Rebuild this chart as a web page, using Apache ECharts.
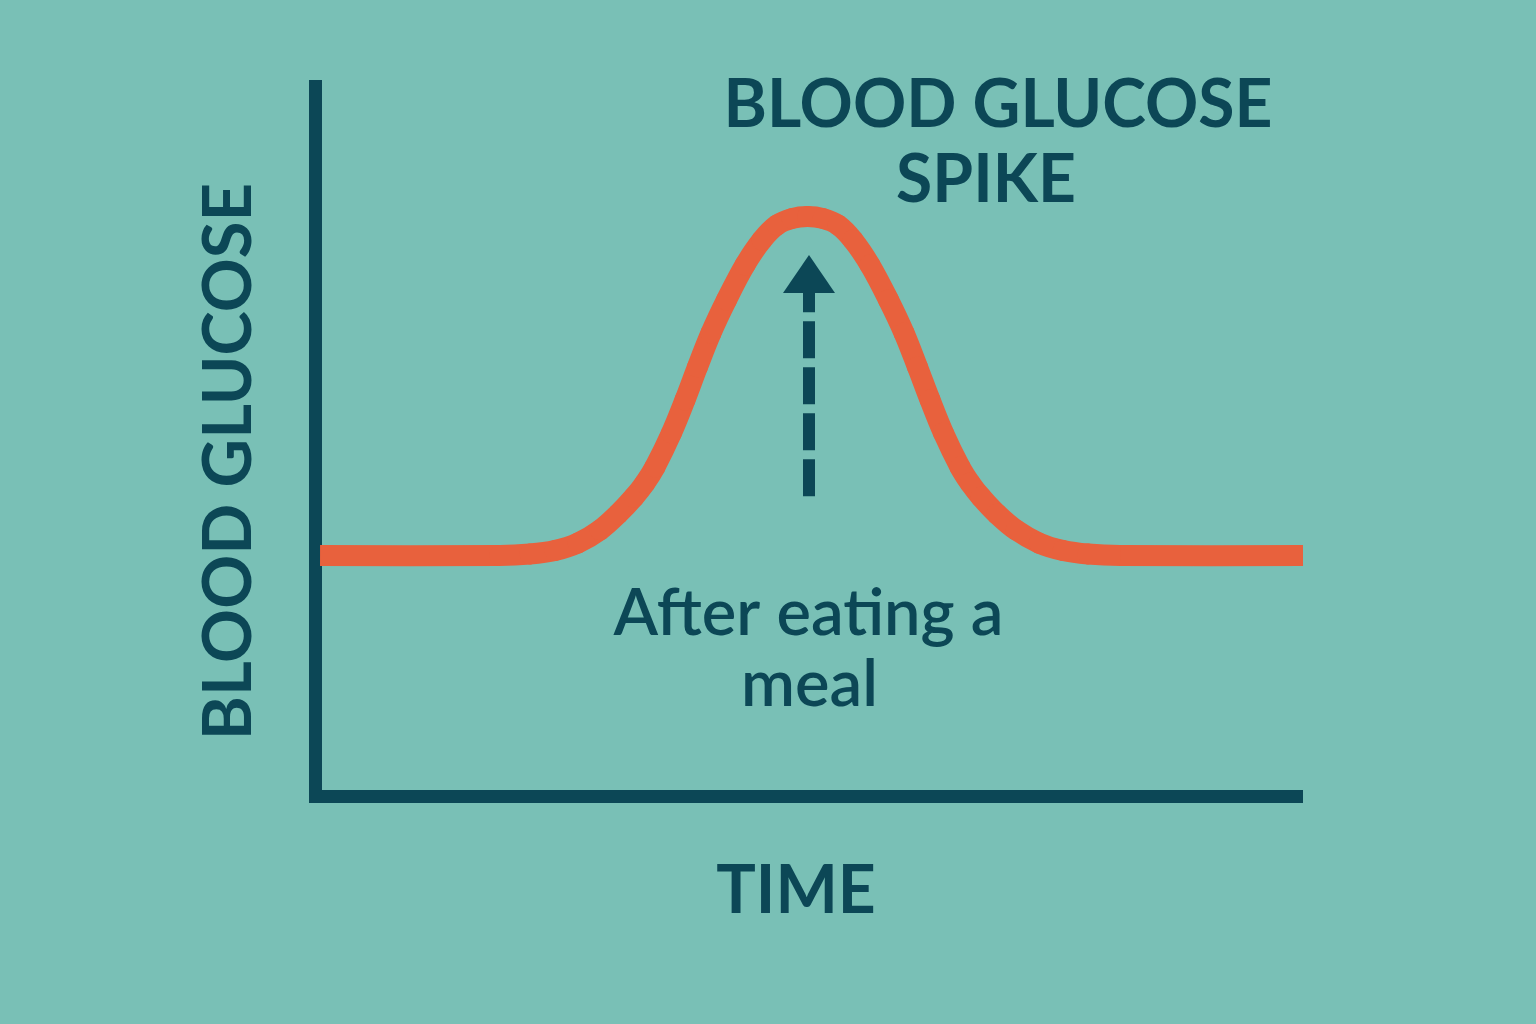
<!DOCTYPE html>
<html>
<head>
<meta charset="utf-8">
<script src="https://cdn.jsdelivr.net/npm/echarts@6/dist/echarts.min.js"></script>
<style>
  html, body { margin: 0; padding: 0; background: #79c0b6; }
  #chart { width: 1536px; height: 1024px; }
</style>
</head>
<body>
<div id="chart"></div>
<script>
// ---- data (time in arbitrary units 0-100, glucose in arbitrary units 0-100) ----
var timeValues = [0.51, 18.72, 21.76, 24.29, 26.62, 28.85, 30.67, 32.29, 33.40, 34.41, 36.08, 37.45, 38.71,
                  40.08, 41.65, 43.52, 45.24, 46.76, 48.28, 49.85, 51.42, 52.94, 54.45, 56.17, 58.05, 59.62,
                  60.98, 62.25, 63.61, 65.28, 66.30, 67.41, 69.03, 70.95, 73.28, 75.71, 78.24, 81.48, 100];
var glucoseValues = [33.94, 33.94, 34.15, 34.65, 35.70, 37.54, 39.79, 42.18, 44.15, 46.41, 51.20, 55.85, 60.49,
                     65.28, 69.93, 74.86, 78.38, 80.49, 81.41, 81.69, 81.41, 80.49, 78.38, 74.86, 69.93, 65.28,
                     60.49, 55.85, 51.20, 46.41, 44.15, 42.18, 39.79, 37.54, 35.70, 34.65, 34.15, 33.94, 33.94];
var mealTime = [50.0];
var arrowFrom = [42.3];
var arrowTo = [73.6];

var titleLines = ['BLOOD GLUCOSE', 'SPIKE'];
var noteLines = ['After eating a', 'meal'];
var xAxisName = 'TIME';
var yAxisName = 'BLOOD GLUCOSE';

var DARK = '#0c4756';
var CURVE = '#e8613d';
var FONT = 'Lato, "Open Sans", sans-serif';

var curveData = timeValues.map(function (t, i) { return [t, glucoseValues[i]]; });
var shaftData = [[mealTime[0], arrowFrom[0]], [mealTime[0], arrowTo[0]]];
var headData = [[mealTime[0], arrowTo[0]]];

// smooth curve through the data points, positioned by the chart's own axes (api.coord)
function renderCurve(params, api) {
  var pts = curveData.map(function (d) { return api.coord(d); });
  var n = pts.length, tan = [], children = [];
  for (var i = 0; i < n; i++) {
    var a = pts[Math.max(i - 1, 0)], b = pts[Math.min(i + 1, n - 1)];
    var dx = b[0] - a[0], dy = b[1] - a[1], L = Math.sqrt(dx * dx + dy * dy) || 1;
    tan.push([dx / L, dy / L]);
  }
  for (var j = 0; j < n - 1; j++) {
    var p = pts[j], q = pts[j + 1];
    var d = Math.sqrt((q[0] - p[0]) * (q[0] - p[0]) + (q[1] - p[1]) * (q[1] - p[1])) * 0.36;
    children.push({
      type: 'bezierCurve',
      shape: {
        x1: p[0], y1: p[1], x2: q[0], y2: q[1],
        cpx1: p[0] + tan[j][0] * d, cpy1: p[1] + tan[j][1] * d,
        cpx2: q[0] - tan[j + 1][0] * d, cpy2: q[1] - tan[j + 1][1] * d
      },
      style: { stroke: CURVE, lineWidth: 21, fill: 'none', lineCap: (j === 0 || j === n - 2) ? 'butt' : 'round' }
    });
  }
  return { type: 'group', children: children };
}

var chart = echarts.init(document.getElementById('chart'), null, { renderer: 'canvas' });
chart.setOption({
  backgroundColor: '#79c0b6',
  animation: false,
  grid: { left: 315, right: 233, top: 86.5, bottom: 227.5, containLabel: false },
  xAxis: {
    type: 'value', min: 0, max: 100,
    name: xAxisName, nameLocation: 'middle', nameGap: 62,
    nameTextStyle: { color: DARK, fontFamily: FONT, fontWeight: 'bold', fontSize: 66, padding: [0, 26, 0, 0] },
    axisLine: { show: true, onZero: false, lineStyle: { color: DARK, width: 13, cap: 'butt' } },
    axisTick: { show: false }, axisLabel: { show: false }, splitLine: { show: false }
  },
  yAxis: {
    type: 'value', min: 0, max: 100,
    name: yAxisName, nameLocation: 'middle', nameGap: 52, nameRotate: 90,
    nameTextStyle: { color: DARK, fontFamily: FONT, fontWeight: 'bold', fontSize: 67, padding: [0, 40, 0, 0] },
    axisLine: { show: true, onZero: false, lineStyle: { color: DARK, width: 13, cap: 'square' } },
    axisTick: { show: false }, axisLabel: { show: false }, splitLine: { show: false }
  },
  graphic: [
    { type: 'text', x: 998, y: 105.5, style: { text: titleLines[0], fill: DARK, font: 'bold 66px ' + FONT, textAlign: 'center', textVerticalAlign: 'middle' } },
    { type: 'text', x: 986, y: 181, style: { text: titleLines[1], fill: DARK, font: 'bold 66px ' + FONT, textAlign: 'center', textVerticalAlign: 'middle' } },
    { type: 'text', x: 808.5, y: 614, style: { text: noteLines[0], fill: DARK, font: '600 65px ' + FONT, textAlign: 'center', textVerticalAlign: 'middle' } },
    { type: 'text', x: 809.5, y: 685, style: { text: noteLines[1], fill: DARK, font: '600 65px ' + FONT, textAlign: 'center', textVerticalAlign: 'middle' } }
  ],
  series: [
    {
      type: 'custom', name: 'Blood glucose', data: [curveData[0]], renderItem: renderCurve, clip: false, z: 3
    },
    {
      type: 'line', data: shaftData, showSymbol: false, symbol: 'none', clip: false,
      lineStyle: { color: DARK, width: 12, type: [37, 9], cap: 'butt' }, z: 4
    },
    {
      type: 'scatter', data: headData, symbol: 'triangle', symbolSize: [52, 38],
      itemStyle: { color: DARK, opacity: 1 }, z: 5
    }
  ]
});
</script>
</body>
</html>
